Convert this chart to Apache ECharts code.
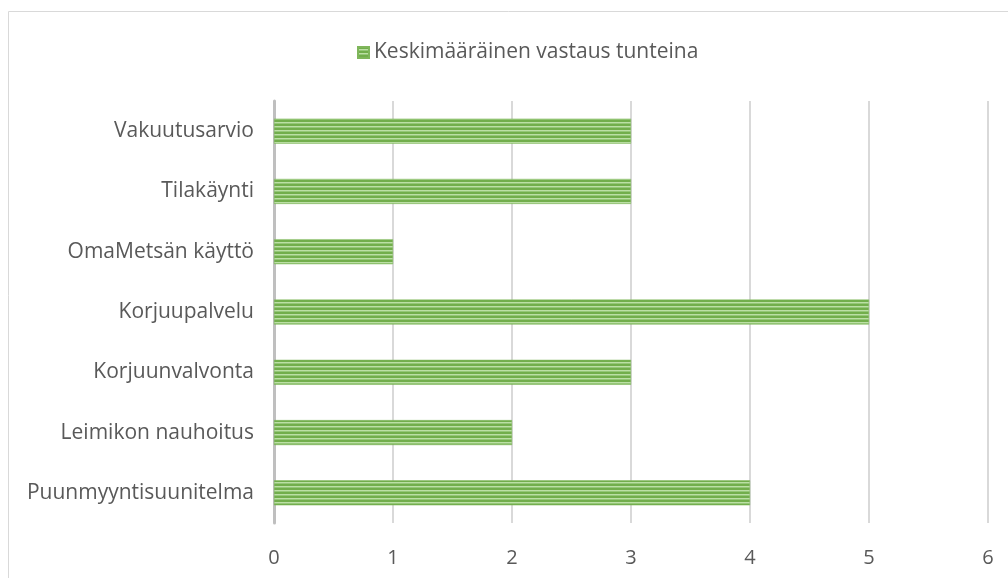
<!DOCTYPE html>
<html>
<head>
<meta charset="utf-8">
<script src="https://cdn.jsdelivr.net/npm/echarts@6/dist/echarts.min.js"></script>
<style>
  html, body { margin: 0; padding: 0; background: #fff; }
  #chart { width: 1008px; height: 578px; }
</style>
</head>
<body>
<div id="chart"></div>
<script>
const categories = [
  'Puunmyyntisuunitelma',
  'Leimikon nauhoitus',
  'Korjuunvalvonta',
  'Korjuupalvelu',
  'OmaMetsän käyttö',
  'Tilakäynti',
  'Vakuutusarvio'
]
const hours = [4, 2, 3, 5, 1, 3, 3]
const seriesName = 'Keskimääräinen vastaus tunteina'

// striped fill like the office pattern
function stripePattern() {
  const c = document.createElement('canvas')
  c.width = 4
  c.height = 4
  const ctx = c.getContext('2d')
  ctx.fillStyle = '#72ae4c'
  ctx.fillRect(0, 0, 4, 4)
  ctx.fillStyle = '#bcdfa6'
  ctx.fillRect(0, 2, 4, 1)
  ctx.fillStyle = '#94c777'
  ctx.fillRect(0, 3, 4, 1)
  return c
}

const textColor = '#595959'
const fontFamily = 'Open Sans, Noto Sans, sans-serif'

const chart = echarts.init(document.getElementById('chart'))
chart.setOption({
  animation: false,
  textStyle: { fontFamily },
  graphic: [
    {
      type: 'rect',
      shape: { x: 8.5, y: 11.5, width: 1010, height: 580 },
      style: { fill: 'none', stroke: '#d9d9d9', lineWidth: 1 },
      silent: true
    }
  ],
  legend: {
    top: 37,
    left: 352,
    itemWidth: 11,
    itemHeight: 11,
    itemGap: 4,
    textStyle: { color: textColor, fontSize: 21, fontFamily },
    data: [{ name: seriesName, icon: 'rect' }]
  },
  grid: {
    left: 274,
    right: 20,
    top: 101,
    bottom: 55,
    containLabel: false
  },
  xAxis: {
    type: 'value',
    min: 0,
    max: 6,
    interval: 1,
    axisLine: { show: false },
    axisTick: { show: false },
    axisLabel: { color: textColor, fontSize: 20, margin: 25 },
    splitLine: { lineStyle: { color: '#d9d9d9', width: 2 } }
  },
  yAxis: {
    type: 'category',
    data: categories,
    axisLine: { lineStyle: { color: '#bfbfbf', width: 3 } },
    axisTick: { show: false },
    axisLabel: { color: textColor, fontSize: 21, margin: 20 }
  },
  series: [
    {
      name: seriesName,
      type: 'bar',
      data: hours,
      barWidth: 25,
      itemStyle: {
        color: { image: stripePattern(), repeat: 'repeat' },
        borderColor: '#7fb65b',
        borderWidth: 0.5
      }
    }
  ]
})
</script>
</body>
</html>
